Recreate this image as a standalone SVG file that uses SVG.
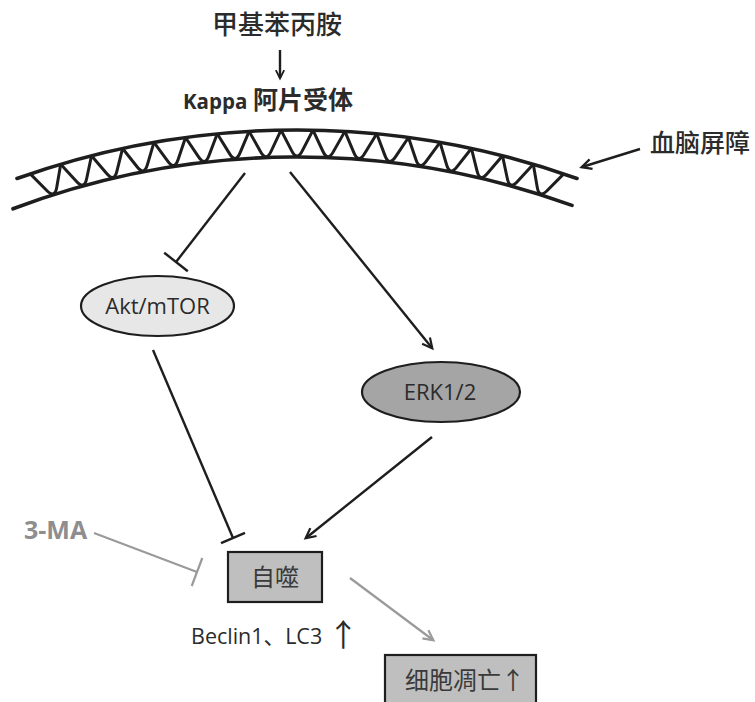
<svg xmlns="http://www.w3.org/2000/svg" xmlns:xlink="http://www.w3.org/1999/xlink" width="755" height="702" viewBox="0 0 755 702">
  <style>
    .cjk { font-family: "Noto Sans CJK SC", "Open Sans", sans-serif; fill: #2b2b2b; }
    .lat { font-family: "Open Sans", "Noto Sans CJK SC", sans-serif; fill: #2b2b2b; }
    .dark { stroke: #1e1e1e; stroke-width: 2.4; fill: none; }
    .grey { stroke: #9a9a9a; stroke-width: 2.2; fill: none; }
    .mem { stroke: #1e1e1e; stroke-width: 3.6; fill: none; stroke-linecap: round; }
    .zig { stroke: #1e1e1e; stroke-width: 3; fill: none; stroke-linejoin: round; }
    .node { stroke: #1e1e1e; stroke-width: 2.2; }
  </style>
  <defs>
    <marker id="headDark" viewBox="0 0 12 12" markerWidth="12" markerHeight="12" refX="10.5" refY="6" orient="auto" markerUnits="userSpaceOnUse" overflow="visible">
      <path d="M1,1 L11,6 L1,11" fill="none" stroke="#1e1e1e" stroke-width="2.2"/>
    </marker>
    <marker id="headSmall" viewBox="0 0 12 12" markerWidth="10" markerHeight="10" refX="10.5" refY="6" orient="auto" markerUnits="userSpaceOnUse" overflow="visible">
      <path d="M1,1 L11,6 L1,11" fill="none" stroke="#1e1e1e" stroke-width="2.2"/>
    </marker>
    <marker id="headGrey" viewBox="0 0 12 12" markerWidth="12" markerHeight="12" refX="10.5" refY="6" orient="auto" markerUnits="userSpaceOnUse" overflow="visible">
      <path d="M1,1 L11,6 L1,11" fill="none" stroke="#9a9a9a" stroke-width="2.2"/>
    </marker>
    <!-- one tooth of the membrane zigzag, centred on the top of the arc -->
    <path id="tooth" class="zig" d="M281.03,130.15 L291.6,150.6 Q297,161.5 302.4,150.6 L312.97,130.15"/>
  </defs>

  <rect width="755" height="702" fill="#ffffff"/>

  <!-- drug and receptor -->
  <g id="drug">
    <text class="cjk" x="277" y="34" font-size="26" font-weight="500" text-anchor="middle">甲基苯丙胺</text>
  </g>
  <g id="receptor">
    <text class="cjk" x="268" y="109" font-size="25" font-weight="bold" text-anchor="middle"><tspan class="lat" font-size="20.5" font-weight="bold">Kappa</tspan> 阿片受体</text>
  </g>

  <!-- blood-brain barrier membrane -->
  <g id="membrane">
    <path class="mem" d="M17,178.5 A832,832 0 0 1 577,178.5"/>
    <path class="mem" d="M13,208.8 A805,805 0 0 1 572,205.4"/>
    <use xlink:href="#tooth" transform="rotate(-17.6 297 962)"/>
    <use xlink:href="#tooth" transform="rotate(-15.4 297 962)"/>
    <use xlink:href="#tooth" transform="rotate(-13.2 297 962)"/>
    <use xlink:href="#tooth" transform="rotate(-11 297 962)"/>
    <use xlink:href="#tooth" transform="rotate(-8.8 297 962)"/>
    <use xlink:href="#tooth" transform="rotate(-6.6 297 962)"/>
    <use xlink:href="#tooth" transform="rotate(-4.4 297 962)"/>
    <use xlink:href="#tooth" transform="rotate(-2.2 297 962)"/>
    <use xlink:href="#tooth"/>
    <use xlink:href="#tooth" transform="rotate(2.2 297 962)"/>
    <use xlink:href="#tooth" transform="rotate(4.4 297 962)"/>
    <use xlink:href="#tooth" transform="rotate(6.6 297 962)"/>
    <use xlink:href="#tooth" transform="rotate(8.8 297 962)"/>
    <use xlink:href="#tooth" transform="rotate(11 297 962)"/>
    <use xlink:href="#tooth" transform="rotate(13.2 297 962)"/>
    <use xlink:href="#tooth" transform="rotate(15.4 297 962)"/>
    <use xlink:href="#tooth" transform="rotate(17.6 297 962)"/>
  </g>
  <g id="bbb-label">
    <text class="cjk" x="650" y="152" font-size="25" font-weight="500">血脑屏障</text>
  </g>

  <!-- signalling nodes -->
  <g id="akt">
    <ellipse class="node" cx="157.5" cy="306" rx="76.5" ry="30" fill="#e7e7e7"/>
    <text class="lat" x="157.5" y="313.5" font-size="22" text-anchor="middle">Akt/mTOR</text>
  </g>
  <g id="erk">
    <ellipse class="node" cx="441" cy="392" rx="79" ry="30" fill="#a5a5a5"/>
    <text class="lat" x="440" y="400" font-size="22" text-anchor="middle">ERK1/2</text>
  </g>
  <g id="inhibitor">
    <text class="lat" x="24" y="539" font-size="25" font-weight="bold" style="fill:#8e8e8e">3-MA</text>
  </g>
  <g id="autophagy">
    <rect class="node" x="228" y="552" width="94" height="50" fill="#bfbfbf"/>
    <text class="cjk" x="275" y="586" font-size="24" text-anchor="middle" style="fill:#3a3a3a">自噬</text>
  </g>
  <g id="markers">
    <text class="lat" x="191" y="644" font-size="21.5">Beclin1<tspan class="cjk">、</tspan>LC3 <tspan class="cjk" font-size="31" dy="2">↑</tspan></text>
  </g>
  <g id="apoptosis">
    <rect class="node" x="385" y="655" width="151" height="60" fill="#bfbfbf"/>
    <text class="cjk" x="405" y="689" font-size="24" style="fill:#3a3a3a">细胞凋亡↑</text>
  </g>

  <!-- connectors -->
  <g id="connectors">
    <line class="dark" x1="280" y1="50" x2="280" y2="78" marker-end="url(#headSmall)"/>
    <line class="dark" x1="640" y1="149" x2="582" y2="167" marker-end="url(#headDark)"/>
    <!-- receptor inhibits Akt/mTOR -->
    <line class="dark" x1="245" y1="173" x2="176" y2="262"/>
    <line class="dark" x1="164.2" y1="252.7" x2="187.8" y2="271.3"/>
    <!-- receptor activates ERK1/2 -->
    <line class="dark" x1="290" y1="172" x2="432" y2="348" marker-end="url(#headDark)"/>
    <!-- Akt/mTOR inhibits autophagy -->
    <line class="dark" x1="153" y1="350" x2="233" y2="538"/>
    <line class="dark" x1="221" y1="543.1" x2="245" y2="532.9"/>
    <!-- ERK1/2 activates autophagy -->
    <line class="dark" x1="432" y1="437" x2="306" y2="538" marker-end="url(#headDark)"/>
    <!-- 3-MA inhibits autophagy -->
    <line class="grey" x1="94" y1="533" x2="197" y2="572"/>
    <line class="grey" x1="202.3" y1="558" x2="191.7" y2="586"/>
    <!-- autophagy leads to apoptosis -->
    <line class="grey" x1="350" y1="578" x2="433" y2="640" marker-end="url(#headGrey)"/>
  </g>
</svg>
